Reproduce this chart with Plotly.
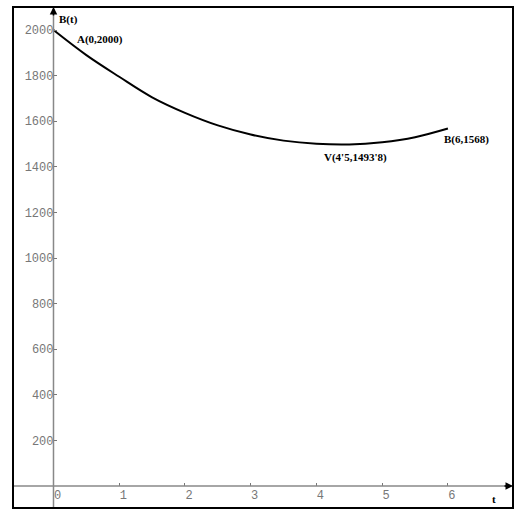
import plotly.graph_objects as go

t_vals = [0, 0.5, 1, 1.5, 2, 2.5, 3, 3.5, 4, 4.5, 5, 5.5, 6]
b_vals = [2000, 1890, 1795, 1705, 1637, 1582, 1542, 1515, 1501, 1498, 1508, 1530, 1568]

x_ticks = [0, 1, 2, 3, 4, 5, 6]
y_ticks = [200, 400, 600, 800, 1000, 1200, 1400, 1600, 1800, 2000]

point_labels = ["A(0,2000)", "V(4'5,1493'8)", "B(6,1568)"]
point_x = [0, 4.5, 6]
point_y = [2000, 1493.8, 1568]

W, H = 517, 510
ml, mr, mt, mb = 13, 4, 7, 2
xr = [-0.616, 6.99]
yr = [-96, 2101]

ypos = (0 - xr[0]) / (xr[1] - xr[0])
xpos = (0 - yr[0]) / (yr[1] - yr[0])

fig = go.Figure()
fig.add_trace(go.Scatter(x=t_vals, y=b_vals, mode="lines",
                         line=dict(color="black", width=2, shape="spline"),
                         showlegend=False, hoverinfo="skip"))

lab_font = dict(family="Liberation Serif, Times New Roman, serif", size=11, color="black")
shifts = [(22, -9, "left"), (6, -12, "center"), (19, -11, "center")]
for lbl, px, py, (dx, dy, anc) in zip(point_labels, point_x, point_y, shifts):
    fig.add_annotation(x=px, y=py, text="<b>%s</b>" % lbl, showarrow=False,
                       xshift=dx, yshift=dy, xanchor=anc, font=lab_font)

# axis names
fig.add_annotation(x=0, y=yr[1], text="<b>B(t)</b>", showarrow=False, xanchor="left", yanchor="top",
                   xshift=4, yshift=-4, font=lab_font)
fig.add_annotation(x=xr[1], y=0, text="<b>t</b>", showarrow=False, xanchor="right", yanchor="top",
                   xshift=-15, yshift=-5, font=lab_font)

# arrow heads
fig.add_annotation(x=0, y=yr[1], ax=0, ay=10, axref="pixel", ayref="pixel", showarrow=True,
                   arrowhead=2, arrowsize=1, arrowwidth=1.5, arrowcolor="black", text="")
fig.add_annotation(x=xr[1], y=0, ax=-10, ay=0, axref="pixel", ayref="pixel", showarrow=True,
                   arrowhead=2, arrowsize=1, arrowwidth=1.5, arrowcolor="black", text="")

tick_font = dict(family="Liberation Mono, Courier New, monospace", size=12, color="#777777")

fig.update_layout(
    width=W, height=H,
    margin=dict(l=ml, r=mr, t=mt, b=mb, pad=0),
    paper_bgcolor="white", plot_bgcolor="white",
    xaxis=dict(range=xr, anchor="free", position=xpos, showgrid=False, zeroline=False,
               showline=False, tickvals=x_ticks, ticks="inside", ticklen=3, tickcolor="#777777",
               tickfont=tick_font, ticklabelshift=4),
    yaxis=dict(range=yr, anchor="free", position=ypos, showgrid=False, zeroline=False,
               showline=False, tickvals=y_ticks, ticks="inside", ticklen=3, tickcolor="#777777",
               tickfont=tick_font),
    shapes=[
        dict(type="line", xref="x", yref="paper", x0=0, x1=0, y0=0, y1=1,
             line=dict(color="#888888", width=1.5)),
        dict(type="line", xref="paper", yref="y", x0=0, x1=1, y0=0, y1=0,
             line=dict(color="#888888", width=1.5)),
        dict(type="rect", xref="paper", yref="paper", x0=0, x1=1, y0=0, y1=1,
             line=dict(color="black", width=2)),
    ],
)

fig.write_html("out.html", config={"displayModeBar": False},
               post_script="document.body.style.margin='0';")
